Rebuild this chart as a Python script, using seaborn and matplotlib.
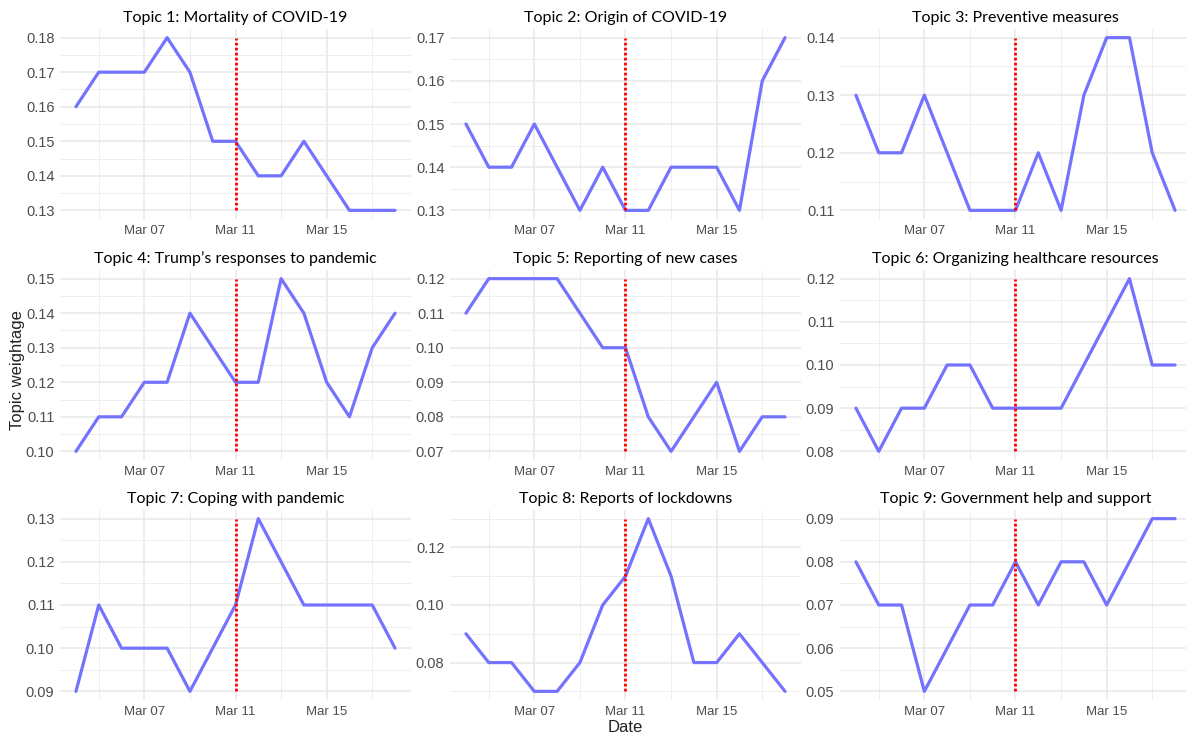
import matplotlib
matplotlib.use("Agg")
import matplotlib.pyplot as plt
import matplotlib.dates as mdates
import matplotlib.ticker as mticker
import seaborn as sns
import pandas as pd

# daily topic weightage, Mar 04 - Mar 18 2020
dates = pd.date_range("2020-03-04", "2020-03-18", freq="D")
cutoff = pd.Timestamp("2020-03-11")

topic1 = [0.16, 0.17, 0.17, 0.17, 0.18, 0.17, 0.15, 0.15, 0.14, 0.14, 0.15, 0.14, 0.13, 0.13, 0.13]
topic2 = [0.15, 0.14, 0.14, 0.15, 0.14, 0.13, 0.14, 0.13, 0.13, 0.14, 0.14, 0.14, 0.13, 0.16, 0.17]
topic3 = [0.13, 0.12, 0.12, 0.13, 0.12, 0.11, 0.11, 0.11, 0.12, 0.11, 0.13, 0.14, 0.14, 0.12, 0.11]
topic4 = [0.10, 0.11, 0.11, 0.12, 0.12, 0.14, 0.13, 0.12, 0.12, 0.15, 0.14, 0.12, 0.11, 0.13, 0.14]
topic5 = [0.11, 0.12, 0.12, 0.12, 0.12, 0.11, 0.10, 0.10, 0.08, 0.07, 0.08, 0.09, 0.07, 0.08, 0.08]
topic6 = [0.09, 0.08, 0.09, 0.09, 0.10, 0.10, 0.09, 0.09, 0.09, 0.09, 0.10, 0.11, 0.12, 0.10, 0.10]
topic7 = [0.09, 0.11, 0.10, 0.10, 0.10, 0.09, 0.10, 0.11, 0.13, 0.12, 0.11, 0.11, 0.11, 0.11, 0.10]
topic8 = [0.09, 0.08, 0.08, 0.07, 0.07, 0.08, 0.10, 0.11, 0.13, 0.11, 0.08, 0.08, 0.09, 0.08, 0.07]
topic9 = [0.08, 0.07, 0.07, 0.05, 0.06, 0.07, 0.07, 0.08, 0.07, 0.08, 0.08, 0.07, 0.08, 0.09, 0.09]

titles = [
    "Topic 1: Mortality of COVID-19",
    "Topic 2: Origin of COVID-19",
    "Topic 3: Preventive measures",
    "Topic 4: Trump\u2019s responses to pandemic",
    "Topic 5: Reporting of new cases",
    "Topic 6: Organizing healthcare resources",
    "Topic 7: Coping with pandemic",
    "Topic 8: Reports of lockdowns",
    "Topic 9: Government help and support",
]
series = [topic1, topic2, topic3, topic4, topic5, topic6, topic7, topic8, topic9]
y_steps = [0.01, 0.01, 0.01, 0.01, 0.01, 0.01, 0.01, 0.02, 0.01]

sns.set_theme(style="whitegrid")
plt.rcParams["font.family"] = ["Liberation Sans", "DejaVu Sans"]

W, H = 1186, 737
fig = plt.figure(figsize=(W / 100, H / 100), dpi=100)
fig.patch.set_facecolor("white")

col_left = [60, 450, 840]
col_w = 351
row_top = [29, 270, 510]
row_h = 190

for i, (vals, title) in enumerate(zip(series, titles)):
    r, c = divmod(i, 3)
    ax = fig.add_axes([col_left[c] / W, 1 - (row_top[r] + row_h) / H, col_w / W, row_h / H])
    ax.set_facecolor("white")
    sns.lineplot(x=dates, y=vals, ax=ax, color="#7373FF", linewidth=2.3)
    ax.vlines(cutoff, min(vals), max(vals), colors="red",
              linestyles=[(0, (1.0, 0.8))], linewidth=2.0, zorder=3)

    ax.set_xlim(dates[0] - pd.Timedelta(days=0.7), dates[-1] + pd.Timedelta(days=0.7))
    ax.xaxis.set_major_locator(mdates.DayLocator(bymonthday=[7, 11, 15]))
    ax.xaxis.set_minor_locator(mdates.DayLocator(bymonthday=[5, 9, 13, 17]))
    ax.xaxis.set_major_formatter(mdates.DateFormatter("%b %d"))

    step = y_steps[i]
    ax.yaxis.set_major_locator(mticker.MultipleLocator(step))
    ax.yaxis.set_minor_locator(mticker.MultipleLocator(step / 2))
    ax.yaxis.set_major_formatter(mticker.FormatStrFormatter("%.2f"))

    ax.grid(which="major", color="#E8E8E8", linewidth=1.1)
    ax.grid(which="minor", color="#EEEEEE", linewidth=0.7)
    ax.set_axisbelow(True)
    for s in ax.spines.values():
        s.set_visible(False)
    ax.tick_params(which="both", length=0, labelcolor="#4D4D4D", pad=4)
    ax.tick_params(axis="x", labelsize=9.5)
    ax.tick_params(axis="y", labelsize=10.5)
    ax.set_xlabel("")
    ax.set_ylabel("")
    ax.set_title(title, fontsize=11.5, family=["Lato", "DejaVu Sans"], color="black", pad=5)

fig.text(18 / W, 1 - 370 / H, "Topic weightage", rotation=90, ha="center", va="center",
         fontsize=12, color="#222222")
fig.text(625 / W, 1 - 728 / H, "Date", ha="center", va="center", fontsize=12, color="#222222")

fig.savefig("out.png", dpi=100)
